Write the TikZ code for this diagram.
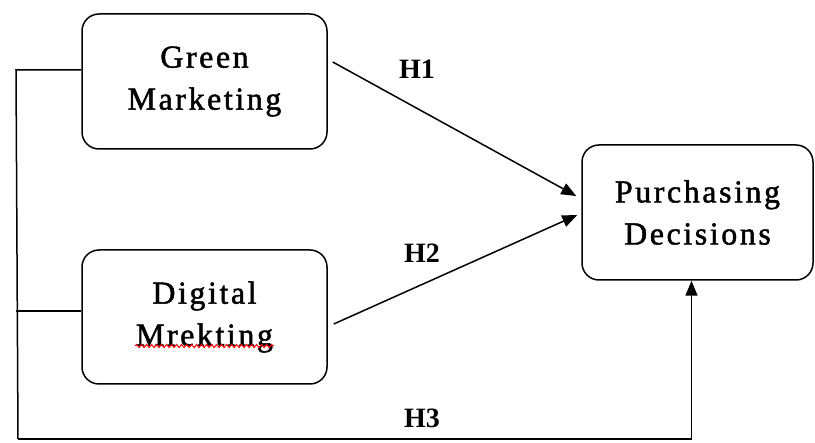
\documentclass[tikz,border=0pt]{standalone}
\usepackage{fontspec}
\setmainfont{Liberation Serif}
\usetikzlibrary{calc}
\usetikzlibrary{arrows.meta}
\usetikzlibrary{decorations.pathmorphing}

\begin{document}
\begin{tikzpicture}[
     x=1pt,y=-1pt,
     var/.style={draw,line width=1.5pt,rounded corners=17pt,align=center,
       inner sep=0pt,font=\fontsize{32}{42}\selectfont\addfontfeatures{LetterSpace=8,FakeBold=1.5}},
     hyp/.style={font=\fontsize{28}{30}\selectfont\bfseries},
     link/.style={line width=1.5pt,-{Triangle[length=15pt,width=12pt]}},
     wire/.style={line width=1.5pt}
   ]
   \path[use as bounding box] (0,0) rectangle (815,443);
   % Variables.
   \node[var,minimum width=245pt,minimum height=135pt] (green) at (204.5,81.5) {Green\\Marketing};
   \node[var,minimum width=245pt,minimum height=134pt] (digital) at (204.5,317) {Digital\\Mrekting};
   \node[var,minimum width=231pt,minimum height=135pt] (decision) at (697.5,212.5) {Purchasing\\Decisions};
   % Spelling mark.
   \draw[red,line width=1pt,decorate,decoration={snake,amplitude=1.6pt,segment length=5pt}]
     (135,346) -- (274,346);
   % Direct paths.
   \draw[link] ([xshift=5pt,yshift=19.5pt]green.east) -- ([xshift=-5pt,yshift=16.5pt]decision.west);
   \draw[link] ([xshift=6pt,yshift=-7pt]digital.east) -- ([xshift=-4pt,yshift=-2.5pt]decision.west);
   \node[hyp] (h1) at (417,69) {H1};
   \node[hyp] (h2) at (422,253) {H2};
   % Joint path.
   \coordinate (top) at (16,70);
   \coordinate (bot) at (18,439);
   \draw[wire] ([yshift=11.5pt]green.west) -- (top) -- (bot);
   \draw[wire] ([yshift=6pt]digital.west) -- (top |- 0,311);
   \draw[link] (bot) -| ([xshift=-6pt]decision.south);
   \node[hyp] (h3) at (422,418) {H3};
 \end{tikzpicture}
\end{document}
